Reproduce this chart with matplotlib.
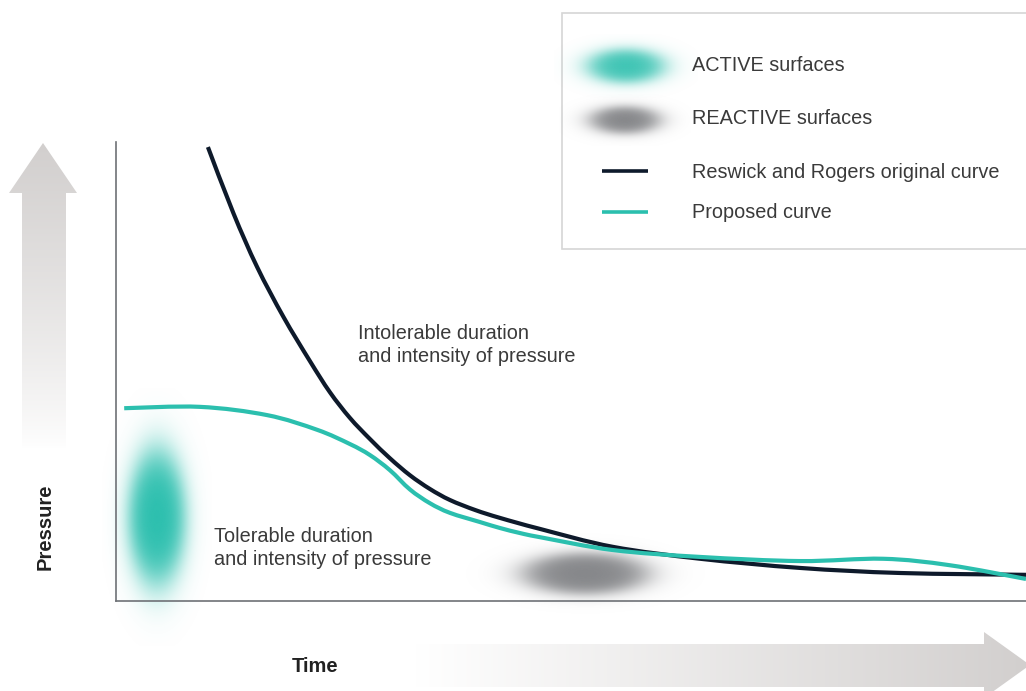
import numpy as np
import matplotlib
matplotlib.use("Agg")
import matplotlib.pyplot as plt
from matplotlib.colors import LinearSegmentedColormap, to_rgb
from matplotlib.patches import Polygon, Rectangle, PathPatch
from matplotlib.path import Path

plt.rcParams['font.family'] = ['Liberation Sans', 'DejaVu Sans']

# curves (time, pressure) in 0..100 units
reswick_t = [10.1, 12.9, 15.5, 18.4, 21.3, 23.5, 25.7, 27.9, 30.1, 32.3, 34.5, 36.7,
             39.5, 42.2, 46.6, 54.6, 64.2, 75.2, 86.2, 100.0]
reswick_p = [98.9, 84.5, 72.8, 61.9, 52.3, 45.5, 39.9, 35.3, 31.1, 27.4, 24.4, 22.0,
             19.8, 18.1, 15.7, 11.8, 9.2, 7.2, 6.1, 5.7]
proposed_t = [0.9, 9.2, 16.6, 22.1, 25.7, 27.9, 30.1, 32.3, 34.5, 36.7, 40.0,
              42.2, 44.4, 46.6, 54.6, 64.2, 75.2, 84.3, 91.6, 100.0]
proposed_p = [42.0, 42.3, 40.5, 37.3, 34.2, 31.8, 28.5, 24.3, 21.3, 19.2, 17.2,
              15.9, 14.8, 13.9, 11.1, 9.6, 8.7, 9.2, 7.8, 4.8]

# surface regions: centre time, centre pressure, half width, half height
active_zone = [4.5, 18.3, 3.0, 14.0]
reactive_zone = [51.5, 5.9, 6.6, 4.4]

legend_labels = ["ACTIVE surfaces", "REACTIVE surfaces",
                 "Reswick and Rogers original curve", "Proposed curve"]
zone_labels = ["Intolerable duration\nand intensity of pressure",
               "Tolerable duration\nand intensity of pressure"]

teal = "#2bbfae"
navy = "#0e1a2b"
grey_blob = "#86878a"
text_col = "#3a3a3a"
fs = 14.3


def blob(ax, cx, cy, a, b, color, soft=0.16, z=1):
    n = 240
    xs = np.linspace(cx - 2 * a, cx + 2 * a, n)
    ys = np.linspace(cy + 2 * b, cy - 2 * b, n)
    X, Y = np.meshgrid(xs, ys)
    r = np.sqrt(((X - cx) / a) ** 2 + ((Y - cy) / b) ** 2)
    alpha = 1.0 / (1.0 + np.exp((r - 1.0) / soft))
    img = np.zeros((n, n, 4))
    img[..., :3] = to_rgb(color)
    img[..., 3] = alpha
    ax.imshow(img, extent=[xs[0], xs[-1], ys[-1], ys[0]], aspect='auto',
              interpolation='bilinear', clip_on=False, zorder=z)


def smooth_curve(ax, xs, ys, **kw):
    # Catmull-Rom through the points, drawn as cubic Bezier path
    P = np.column_stack([xs, ys]).astype(float)
    verts = [P[0]]
    codes = [Path.MOVETO]
    for i in range(len(P) - 1):
        p0 = P[i - 1] if i > 0 else P[i]
        p1, p2 = P[i], P[i + 1]
        p3 = P[i + 2] if i + 2 < len(P) else P[i + 1]
        verts += [p1 + (p2 - p0) / 6, p2 - (p3 - p1) / 6, p2]
        codes += [Path.CURVE4] * 3
    ax.add_patch(PathPatch(Path(verts, codes), fill=False, **kw))


W, H = 1026, 691
fig = plt.figure(figsize=(W / 100, H / 100), dpi=100)

# decoration layer in pixel coordinates
deco = fig.add_axes([0, 0, 1, 1], zorder=0)
deco.axis('off')

arrow_cm = LinearSegmentedColormap.from_list("arr", ["#ffffff", "#d2cfce"])

# pressure arrow (up)
up = Polygon([[22, 449], [22, 193], [9, 193], [43, 143], [77, 193], [66, 193], [66, 449]],
             closed=True, facecolor='none', edgecolor='none')
deco.add_patch(up)
im = deco.imshow(np.linspace(1, 0, 256).reshape(-1, 1) ** 0.8, extent=[9, 77, 449, 143],
                 cmap=arrow_cm, aspect='auto', vmin=0, vmax=1)
im.set_clip_path(up)

# time arrow (right)
right = Polygon([[415, 644], [984, 644], [984, 632], [1030, 665], [984, 698],
                 [984, 687], [415, 687]],
                closed=True, facecolor='none', edgecolor='none')
deco.add_patch(right)
im2 = deco.imshow(np.linspace(0, 1, 256).reshape(1, -1), extent=[415, 1030, 698, 632],
                  cmap=arrow_cm, aspect='auto', vmin=0, vmax=1)
im2.set_clip_path(right)

deco.text(45, 527, "Pressure", rotation=90, ha='center', va='center',
          fontsize=14.5, fontweight='bold', color='#222222')
deco.text(315, 666, "Time", ha='center', va='center',
          fontsize=14.5, fontweight='bold', color='#222222')

# legend box
deco.add_patch(Rectangle((562, 13), 480, 236, facecolor='white',
                         edgecolor='#d6d6d6', lw=1.2, zorder=2))
blob(deco, 626, 66, 36, -16, "#3fc5b5", soft=0.22, z=3)
blob(deco, 625, 120, 33, -13, grey_blob, soft=0.22, z=3)
deco.plot([602, 648], [171, 171], color=navy, lw=2.6, zorder=3, solid_capstyle='butt')
deco.plot([602, 648], [212, 212], color=teal, lw=2.6, zorder=3, solid_capstyle='butt')
for yy, lab in zip([65, 118, 172, 212], legend_labels):
    deco.text(692, yy, lab, ha='left', va='center', fontsize=fs,
              color=text_col, zorder=4)
deco.set_xlim(0, W)
deco.set_ylim(H, 0)

# main chart
ax = fig.add_axes([116 / W, 90 / H, 910 / W, 459 / H], zorder=1)
ax.set_facecolor('none')
for s in ['top', 'right']:
    ax.spines[s].set_visible(False)
for s in ['left', 'bottom']:
    ax.spines[s].set_color('#6e7176')
    ax.spines[s].set_linewidth(1.2)
ax.set_xticks([])
ax.set_yticks([])

blob(ax, *active_zone, teal, soft=0.2)
blob(ax, *reactive_zone, grey_blob, soft=0.18)

smooth_curve(ax, reswick_t, reswick_p, edgecolor=navy, lw=3.0, zorder=3,
             capstyle='butt')
smooth_curve(ax, proposed_t, proposed_p, edgecolor=teal, lw=3.0, zorder=4,
             capstyle='butt', clip_on=False)

ax.text(26.6, 55.8, zone_labels[0], ha='left', va='center', fontsize=fs,
        color=text_col, linespacing=1.25)
ax.text(10.8, 11.5, zone_labels[1], ha='left', va='center', fontsize=fs,
        color=text_col, linespacing=1.25)
ax.set_xlim(0, 100)
ax.set_ylim(0, 100)

fig.savefig("out.png", dpi=100)
